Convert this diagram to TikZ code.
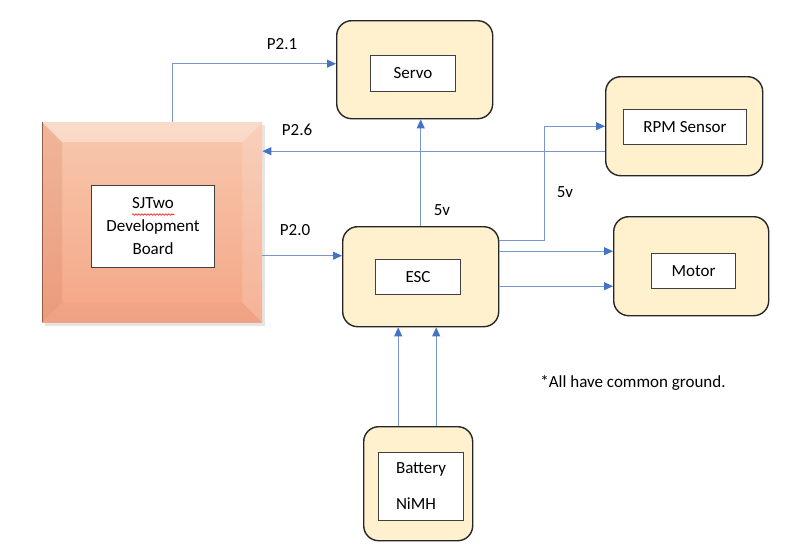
\documentclass[tikz,border=0pt]{standalone}
\usepackage{fontspec}
\setmainfont{Carlito}
\usepackage{tikz}
\usetikzlibrary{positioning}
\usetikzlibrary{calc}
\usetikzlibrary{arrows.meta}
\usetikzlibrary{decorations.pathmorphing}
\definecolor{boxfill}{RGB}{255,240,206}
\definecolor{wireblue}{RGB}{120,150,202}
\definecolor{headblue}{RGB}{68,114,196}
\definecolor{boardhi}{RGB}{248,200,174}
\definecolor{boardlo}{RGB}{243,166,134}
\definecolor{boarddark}{RGB}{214,128,98}
\definecolor{boardedge}{RGB}{150,90,70}
\tikzset{
	block/.style={draw=black!85, line width=1.4pt, fill=boxfill, rounded corners=15pt, anchor=north west, inner sep=0pt},
	inbox/.style={draw=black!75, line width=1pt, fill=white, anchor=north west, inner sep=0pt, font=\fontsize{17}{20}\selectfont},
	tag/.style={font=\fontsize{17}{20}\selectfont, inner sep=0pt},
	wire/.style={draw=wireblue, line width=1pt},
	sig/.style={wire, -{Triangle[color=headblue, length=9pt, width=8pt]}}
}

\begin{document}
\begin{tikzpicture}[x=1pt, y=-1pt]
			\useasboundingbox (0,0) rectangle (800,557);
			% board with bevel
			\fill[black!10] (45,125) rectangle (265,326);
			\node (board) at (42,122) [anchor=north west, minimum width=220pt, minimum height=200pt, inner sep=0pt, top color=boardhi, bottom color=boardlo] {};
			\fill[white, opacity=0.35] (board.north west) -- (board.north east) -- ($(board.north east)+(-20,20)$) -- ($(board.north west)+(20,20)$) -- cycle;
			\fill[boarddark, opacity=0.25] (board.north west) -- ($(board.north west)+(20,20)$) -- ($(board.south west)+(20,-20)$) -- (board.south west) -- cycle;
			\fill[white, opacity=0.15] (board.north east) -- (board.south east) -- ($(board.south east)+(-20,-20)$) -- ($(board.north east)+(-20,20)$) -- cycle;
			\fill[boarddark, opacity=0.08] (board.south west) -- ($(board.south west)+(20,-20)$) -- ($(board.south east)+(-20,-20)$) -- (board.south east) -- cycle;
			\draw[boardedge, line width=0.8pt] (board.north west) -- (board.south west);
			\node (boardin) at (91,185) [inbox, minimum width=123pt, minimum height=82pt, align=center, font=\fontsize{17}{23}\selectfont] {SJTwo\\Development\\Board};
			\draw[red, line width=0.6pt, decorate, decoration={snake, amplitude=0.8pt, segment length=3pt}] ($(boardin.center)+(-21,-12)$) -- ($(boardin.center)+(21,-12)$);

			\node (servo) at (336,20) [block, minimum width=156pt, minimum height=98pt] {};
			\node (servoin) at (370,55) [inbox, minimum width=85pt, minimum height=36pt] {Servo};
			\node (rpm) at (605,76) [block, minimum width=157pt, minimum height=99pt] {};
			\node (rpmin) at (623,109) [inbox, minimum width=123pt, minimum height=35pt] {RPM Sensor};
			\node (esc) at (342,226) [block, minimum width=156pt, minimum height=100pt] {};
			\node (escin) at (375,259) [inbox, minimum width=85pt, minimum height=35pt] {ESC};
			\node (motor) at (613,216) [block, minimum width=155pt, minimum height=99pt] {};
			\node (motorin) at (651,253) [inbox, minimum width=84pt, minimum height=35pt] {Motor};
			\node (bat) at (363,426) [block, minimum width=109pt, minimum height=114pt] {};
			\node (batin) at (378,452) [inbox, minimum width=85pt, minimum height=68pt, align=left] {Battery\\[16pt]NiMH};

			\coordinate (boardup) at ([xshift=20pt]board.north);
			\draw[sig] (boardup) |- ([yshift=6pt]servo.west);
			\draw[sig] (esc.north) -- (esc.north |- servo.south);
			\coordinate (escpwr) at ([yshift=36pt]esc.east);
			\draw[sig] (escpwr) -- ++(45,0) |- (rpm.west);
			\coordinate (rpmout) at ([yshift=-25pt]rpm.west);
			\draw[sig] (rpmout) -- (rpmout -| board.east);
			\coordinate (escsig) at ([yshift=21pt]esc.west);
			\draw[sig] (escsig -| board.east) -- (escsig);
			\coordinate (mota) at ([yshift=15pt]motor.west);
			\coordinate (motb) at ([yshift=-20pt]motor.west);
			\draw[sig] (mota -| esc.east) -- (mota);
			\draw[sig] (motb -| esc.east) -- (motb);
			\coordinate (batl) at ([xshift=-20pt]bat.north);
			\coordinate (batr) at ([xshift=18pt]bat.north);
			\draw[sig] (batl) -- (batl |- esc.south);
			\draw[sig] (batr) -- (batr |- esc.south);

			\node (p21) at (282,44) [tag] {P2.1};
			\node (p26) at (297,130) [tag] {P2.6};
			\node (p20) at (295,230) [tag] {P2.0};
			\node (vservo) at (442,210) [tag] {5v};
			\node (vrpm) at (565,192) [tag] {5v};
			\node (note) at (633,383) [tag] {*All have common ground.};
		\end{tikzpicture}
\end{document}
